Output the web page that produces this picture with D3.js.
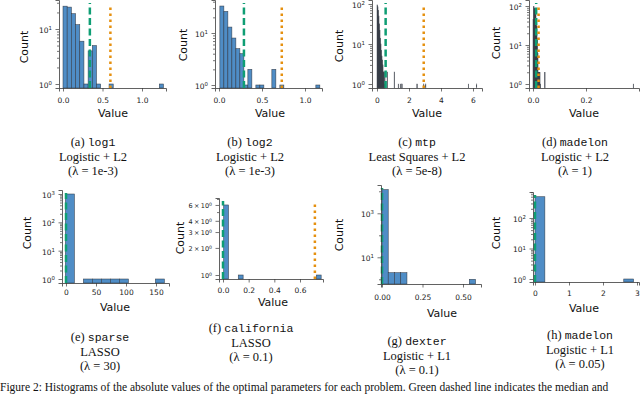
<!DOCTYPE html>
<html><head><meta charset="utf-8">
<script src="https://cdn.jsdelivr.net/npm/d3@7"></script>
<style>body{margin:0;background:#fff}svg{display:block}</style>
</head><body>
<svg id="c" width="640" height="394"></svg>
<script>
// ---------------- DATA ----------------
// (a) log1
const log1BinLeft = [0, 0.053, 0.106, 0.159, 0.212, 0.265, 0.318, 0.371, 0.424, 0.583, 1.219];
const log1Counts  = [26, 25, 19, 12, 6, 1, 4, 5, 1, 1, 1];
const log1BinWidth = 0.053;
// (b) log2
const log2BinLeft = [0.010, 0.0565, 0.103, 0.1495, 0.196, 0.2425, 0.289, 0.3355, 0.4285, 0.475, 0.6145, 0.7075, 1.126];
const log2Counts  = [33, 26, 13, 8, 5, 4, 1, 2, 1, 1, 2, 1, 1];
const log2BinWidth = 0.0465;
// (c) mtp
const mtpBinLeft = [0, 0.0315, 0.063, 0.0945, 0.126, 0.1575, 0.189, 0.2205, 0.252, 0.2835, 0.315, 0.3465, 0.378, 0.4095, 0.441, 0.4725,
                    0.630, 1.071, 1.323, 1.449, 1.5435, 2.4885, 2.898, 3.024, 5.7015, 6.2055];
const mtpCounts  = [95, 85, 70, 50, 32, 22, 14, 10, 7, 5, 4, 3, 2, 2, 1, 2,
                    2, 2, 1, 1, 1, 1, 1, 1, 1, 1];
const mtpBinWidth = 0.0315;
// (d) madelon, Logistic + L2
const madL2BinLeft = [0, 0.0019, 0.0038, 0.0057, 0.0076, 0.0095, 0.0114, 0.0133, 0.0152, 0.0171, 0.019, 0.0209, 0.0228, 0.0247, 0.0266, 0.0437, 0.3781];
const madL2Counts  = [45, 98, 90, 85, 75, 60, 45, 30, 15, 6, 2, 2, 2, 2, 1, 2, 1];
const madL2BinWidth = 0.0019;
// (e) sparse
const sparseBinLeft = [-1, 29, 44, 59, 74, 89, 149];
const sparseCounts  = [1000, 1, 1, 1, 1, 1, 1];
const sparseBinWidth = 15;
// (f) california
const califBinLeft = [0.005, 0.119, 0.727];
const califCounts  = [6, 1, 1];
const califBinWidth = 0.038;
// (g) dexter
const dexterBinLeft = [0, 0.0385, 0.077, 0.1155, 0.539];
const dexterCounts  = [12000, 2, 2, 2, 1];
const dexterBinWidth = 0.0385;
// (h) madelon, Logistic + L1
const madL1BinLeft = [0, 2.61];
const madL1Counts  = [499, 1];
const madL1BinWidth = 0.29;

// vertical reference lines (green dashed, orange dotted); null = not shown
const greenLines  = [0.34, 0.29, 0.54, 0.012, 0, 0.0, 0, 0];
const orangeLines = [0.60, 0.73, 2.92, 0.021, null, 0.716, null, null];

// ticks  (y labels: [mantissa prefix, exponent])
const xTickValues = [[0, 0.5, 1.0], [0, 0.5, 1.0], [0, 2, 4, 6], [0, 0.2], [0, 50, 100, 150], [0, 0.2, 0.4, 0.6], [0, 0.25, 0.5], [0, 1, 2, 3]];
const xTickLabels = [["0.0","0.5","1.0"], ["0.0","0.5","1.0"], ["0","2","4","6"], ["0.0","0.2"], ["0","50","100","150"], ["0.0","0.2","0.4","0.6"], ["0.00","0.25","0.50"], ["0","1","2","3"]];
const yTickValues = [[1, 10], [1, 10], [1, 10, 100], [1, 10, 100], [1, 10, 100, 1000], [1, 2, 3, 4, 6], [10, 1000], [1, 10, 100]];
const yTickLabels = [
  [["10","0"],["10","1"]],
  [["10","0"],["10","1"]],
  [["10","0"],["10","1"],["10","2"]],
  [["10","0"],["10","1"],["10","2"]],
  [["10","0"],["10","1"],["10","2"],["10","3"]],
  [["10","0"],["2\u2009×\u200910","0"],["3\u2009×\u200910","0"],["4\u2009×\u200910","0"],["6\u2009×\u200910","0"]],
  [["10","1"],["10","3"]],
  [["10","0"],["10","1"],["10","2"]]
];

// captions
const captionLetters = ["(a)","(b)","(c)","(d)","(e)","(f)","(g)","(h)"];
const datasetNames = ["log1","log2","mtp","madelon","sparse","california","dexter","madelon"];
const modelNames = ["Logistic + L2","Logistic + L2","Least Squares + L2","Logistic + L2","LASSO","LASSO","Logistic + L1","Logistic + L1"];
const lambdaValues = ["1e-3","1e-3","5e-8","1","30","0.1","0.1","0.05"];
const figureCaption = "Figure 2: Histograms of the absolute values of the optimal parameters for each problem. Green dashed line indicates the median and";

// ---------------- LAYOUT ----------------
const layout = [
  {L:59,  R:166, T:0,   B:88,  xRef:[0,1],   xPx:[63,142],  yRef:[1,10],  yPx:[84,29],    xPad:6, cx:93,  capY:146, countX:24,  countY:47,  valX:113, valY:117},
  {L:215, R:322, T:0,   B:88,  xRef:[0,1],   xPx:[219,305], yRef:[1,10],  yPx:[85,33],    xPad:6, cx:250, capY:146, countX:183, countY:45,  valX:270, valY:117},
  {L:372, R:482, T:0,   B:88,  xRef:[0,6],   xPx:[377,473], yRef:[1,100], yPx:[84,4],     xPad:6, cx:417, capY:146, countX:339, countY:46,  valX:427, valY:117},
  {L:529, R:639, T:0,   B:88,  xRef:[0,0.2], xPx:[533,586], yRef:[1,100], yPx:[84,6],     xPad:6, cx:575, capY:146, countX:496, countY:43,  valX:584, valY:117},
  {L:62,  R:169, T:190, B:283, xRef:[0,150], xPx:[66,156],  yRef:[1,1000],yPx:[279,194],  xPad:3, cx:100, capY:341, countX:27,  countY:233, valX:115, valY:311},
  {L:219, R:323, T:198, B:279, xRef:[0,0.6], xPx:[223,300], yRef:[1,10],  yPx:[275,185],  xPad:5, cx:251, capY:332, countX:180, countY:238, valX:273, valY:306},
  {L:381, R:481, T:185, B:284, xRef:[0,0.5], xPx:[382,463], yRef:[1,10],  yPx:[279.3,257.3], xPad:7, cx:417, capY:345, countX:339, countY:235, valX:442, valY:317},
  {L:533, R:639, T:192, B:282, xRef:[0,3],   xPx:[535,637], yRef:[1,100], yPx:[279,218],  xPad:5, cx:580, capY:339, countX:496, countY:233, valX:584, valY:312}
];

const series = [
  [log1BinLeft, log1Counts, log1BinWidth],
  [log2BinLeft, log2Counts, log2BinWidth],
  [mtpBinLeft, mtpCounts, mtpBinWidth],
  [madL2BinLeft, madL2Counts, madL2BinWidth],
  [sparseBinLeft, sparseCounts, sparseBinWidth],
  [califBinLeft, califCounts, califBinWidth],
  [dexterBinLeft, dexterCounts, dexterBinWidth],
  [madL1BinLeft, madL1Counts, madL1BinWidth]
];

// ---------------- DRAW ----------------
const SANS = "DejaVu Sans, sans-serif";
const SERIF = "Liberation Serif, Times New Roman, serif";
const MONO = "Liberation Mono, DejaVu Sans Mono, monospace";
const BAR = "#4f8dc6";
const EDGE = "#2d3440";
const NARROW = "#3b3f45";
const GREEN = "#0f9e74";
const ORANGE = "#e5900f";
const SPINE = "#3a3a3a";
const CAP_SIZE = 12.5, CAP_GAP = 14.5;

const svg = d3.select("#c");

function linScale(refV, refP, lo, hi) {
  const k = (refP[1]-refP[0])/(refV[1]-refV[0]);
  return d3.scaleLinear().domain([refV[0]+(lo-refP[0])/k, refV[0]+(hi-refP[0])/k]).range([lo, hi]);
}
function logScale(refV, refP, lo, hi) {
  const a0 = Math.log10(refV[0]), a1 = Math.log10(refV[1]);
  const k = (refP[1]-refP[0])/(a1-a0);
  return d3.scaleLog().domain([Math.pow(10, a0+(lo-refP[0])/k), Math.pow(10, a0+(hi-refP[0])/k)]).range([lo, hi]);
}
function minorTicks(y, exclude, gIdx) {
  const [d0, d1] = y.domain();
  const out = [];
  if (gIdx === 6) { [1, 100, 10000].forEach(v => { if (v >= d0 && v <= d1) out.push(v); }); return out; }
  for (let e = Math.floor(Math.log10(d0)); e <= Math.ceil(Math.log10(d1)); e++) {
    for (let m = 1; m <= 9; m++) {
      const v = m * Math.pow(10, e);
      if (v >= d0 && v <= d1 && !exclude.some(t => Math.abs(t - v) < 1e-9)) out.push(v);
    }
  }
  return out.filter(v => v >= 1);
}

layout.forEach((p, i) => {
  const g = svg.append("g");
  const x = linScale(p.xRef, p.xPx, p.L, p.R);
  const y = logScale(p.yRef, p.yPx, p.B, p.T);
  const [starts, counts, w] = series[i];
  const bins = d3.zip(starts, counts);
  const narrow = (x(w) - x(0)) < 1.5;

  g.selectAll("rect").data(bins).join("rect")
    .attr("x", d => x(d[0]))
    .attr("width", d => Math.max(0.3, x(d[0] + w) - x(d[0])))
    .attr("y", d => y(d[1]))
    .attr("height", d => p.B - y(d[1]))
    .attr("fill", narrow ? NARROW : BAR)
    .attr("stroke", EDGE)
    .attr("stroke-width", narrow ? 0.5 : 0.6)
    .attr("stroke-opacity", 0.85);

  if (greenLines[i] !== null) {
    g.append("line").attr("x1", x(greenLines[i])).attr("x2", x(greenLines[i]))
      .attr("y1", p.B).attr("y2", p.T + 3)
      .attr("stroke", GREEN).attr("stroke-width", 2.5).attr("stroke-dasharray", "7,3.5");
  }
  if (orangeLines[i] !== null) {
    g.append("line").attr("x1", x(orangeLines[i])).attr("x2", x(orangeLines[i]))
      .attr("y1", p.B).attr("y2", p.T + 5)
      .attr("stroke", ORANGE).attr("stroke-width", 2.5).attr("stroke-dasharray", "2.5,3.5");
  }

  const xa = g.append("g").attr("transform", `translate(0,${p.B})`)
    .call(d3.axisBottom(x).tickValues(xTickValues[i])
      .tickFormat((d, k) => xTickLabels[i][k]).tickSizeOuter(0).tickSize(3.5).tickPadding(p.xPad));
  const ya = g.append("g").attr("transform", `translate(${p.L},0)`)
    .call(d3.axisLeft(y).tickValues(yTickValues[i])
      .tickFormat("").tickSizeOuter(0).tickSize(3.5).tickPadding(3.5));
  const ym = g.append("g").attr("transform", `translate(${p.L},0)`)
    .call(d3.axisLeft(y).tickValues(minorTicks(y, yTickValues[i], i)).tickFormat("").tickSizeOuter(0).tickSize(2));
  ym.select(".domain").remove();

  // y tick labels with real superscripts
  const fs = i === 5 ? 6.5 : 7.5;
  ya.selectAll(".tick text").each(function(d, k) {
    const t = d3.select(this).text(null);
    const [base, exp] = yTickLabels[i][k];
    t.append("tspan").text(base);
    t.append("tspan").attr("font-size", fs * 0.72).attr("dy", -fs * 0.38).text(exp);
  });

  [xa, ya, ym].forEach(a => {
    a.selectAll(".domain").attr("stroke", SPINE).attr("stroke-width", 0.8);
    a.selectAll(".tick line").attr("stroke", SPINE).attr("stroke-width", 0.7);
    a.selectAll(".tick text").attr("font-family", SANS).attr("fill", "#222");
  });
  xa.selectAll(".tick text").attr("font-size", 7.5);
  ya.selectAll(".tick text").attr("font-size", fs).attr("dy", "0.45em");

  g.append("text").attr("x", p.valX).attr("y", p.valY).attr("text-anchor", "middle")
    .attr("font-family", SANS).attr("font-size", 11).attr("fill", "#111").text("Value");
  g.append("text").attr("transform", `translate(${p.countX},${p.countY}) rotate(-90)`)
    .attr("text-anchor", "middle").attr("dominant-baseline", "central")
    .attr("font-family", SANS).attr("font-size", 11).attr("fill", "#111").text("Count");

  const cap = g.append("text").attr("x", p.cx).attr("y", p.capY).attr("text-anchor", "middle")
    .attr("font-family", SERIF).attr("font-size", CAP_SIZE).attr("fill", "#111");
  cap.append("tspan").text(captionLetters[i] + " ");
  cap.append("tspan").attr("font-family", MONO).attr("font-size", 11.5).text(datasetNames[i]);
  g.append("text").attr("x", p.cx).attr("y", p.capY + CAP_GAP).attr("text-anchor", "middle")
    .attr("font-family", SERIF).attr("font-size", CAP_SIZE).attr("fill", "#111").text(modelNames[i]);
  g.append("text").attr("x", p.cx).attr("y", p.capY + 2 * CAP_GAP).attr("text-anchor", "middle")
    .attr("font-family", SERIF).attr("font-size", CAP_SIZE).attr("fill", "#111").text("(λ = " + lambdaValues[i] + ")");
});

svg.append("text").attr("x", 0).attr("y", 390.5).attr("font-family", SERIF).attr("font-size", 11.5)
  .attr("fill", "#111").text(figureCaption);
</script>
</body></html>
